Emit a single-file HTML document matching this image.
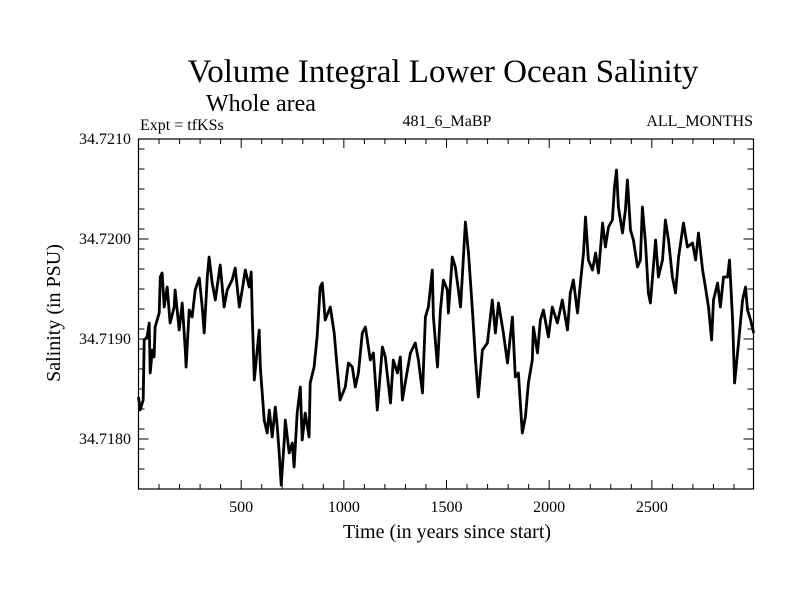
<!DOCTYPE html>
<html><head><meta charset="utf-8"><style>
body{margin:0;background:#fff;}
svg{display:block;font-family:"Liberation Serif",serif;}
</style></head><body>
<svg id="chart" width="800" height="600" viewBox="0 0 800 600">
<rect width="800" height="600" fill="#fff"/>
<text x="443" y="82" font-size="33" text-anchor="middle">Volume Integral Lower Ocean Salinity</text>
<text x="206" y="111" font-size="24">Whole area</text>
<text x="140" y="130" font-size="16">Expt = tfKSs</text>
<text x="447" y="126" font-size="16" text-anchor="middle">481_6_MaBP</text>
<text x="753" y="126" font-size="16" text-anchor="end">ALL_MONTHS</text>
<text x="447" y="538" font-size="20" text-anchor="middle">Time (in years since start)</text>
<text transform="translate(60,313) rotate(-90)" font-size="20" text-anchor="middle">Salinity (in PSU)</text>
<g id="axes"></g>
<path id="series" fill="none" stroke="#000" stroke-width="2.8" stroke-linejoin="round"/>
<rect x="138.5" y="139" width="615" height="350" fill="none" stroke="#000" stroke-width="1.2"/>
</svg>
<script>
const years=[0,8,23,28,42,52,57,67,76,81,101,106,115,125,140,154,174,178,198,213,228,232,247,261,276,296,310,320,335,344,359,374,398,417,432,456,471,491,505,520,539,549,554,564,578,588,593,612,627,637,651,666,676,685,695,710,715,734,749,758,773,788,797,812,831,836,855,870,885,895,909,934,953,967,
982,1007,1022,1041,1056,1071,1090,1105,1129,1144,1163,1188,1202,1227,1241,1261,1275,1285,1299,1324,1348,1363,1383,1397,1412,1431,1436,1456,1470,1485,1504,1509,1528,1543,1558,1568,1577,1592,1607,1626,1641,1655,1675,1699,1723,1738,1753,1777,1797,1821,1835,1850,1869,1884,1899,1918,1923,1943,
1957,1972,1996,2015,2040,2064,2089,2103,2118,2138,2152,2167,2177,2191,2211,2226,2240,2260,2274,2289,2308,2318,2328,2337,2357,2371,2381,2396,2410,2430,2444,2454,2469,2483,2493,2518,2532,2552,2566,2581,2600,2615,2630,2654,2673,2698,2713,2727,2747,2761,2776,2791,2800,2820,2834,2849,2869,2878,2893,2903,2922,2942,2956,2966,2981,2996];
const salinity=[34.71842,34.71829,34.71839,34.71899,34.71902,34.71916,34.71866,34.71889,34.71882,34.71912,34.71926,34.71962,34.71966,34.71932,34.71952,34.71916,34.71932,34.71949,34.71909,34.71936,34.71889,34.71872,34.71929,34.71922,34.71949,34.71961,34.71932,34.71906,34.71962,34.71982,34.71956,34.71939,34.71974,34.71932,34.71949,34.71959,34.71971,34.71932,34.71949,34.71969,34.71952,34.71967,34.71922,34.71859,34.71889,34.71909,34.71872,34.71819,34.71806,34.71829,34.71802,34.71832,34.71812,34.71786,34.71754,34.71799,34.71819,34.71786,34.71796,34.71772,34.71826,34.71852,34.71799,34.71826,34.71802,34.71856,34.71872,34.71902,34.71952,34.71956,34.71919,34.71932,34.71906,34.71872,
34.71839,34.71852,34.71876,34.71872,34.71852,34.71866,34.71906,34.71912,34.71879,34.71886,34.71829,34.71892,34.71882,34.71836,34.71879,34.71866,34.71882,34.71839,34.71856,34.71886,34.71896,34.71879,34.71846,34.71922,34.71932,34.71969,34.71922,34.71872,34.71929,34.71959,34.71949,34.71926,34.71982,34.71972,34.71949,34.71932,34.71962,34.72017,34.71986,34.71929,34.71879,34.71842,34.71889,34.71896,34.71939,34.71906,34.71936,34.71906,34.71876,34.71922,34.71862,34.71866,34.71806,34.71822,34.71856,34.71879,34.71912,34.71886,
34.71919,34.71929,34.71902,34.71932,34.71916,34.71939,34.71909,34.71946,34.71959,34.71926,34.71956,34.71986,34.72022,34.71979,34.71969,34.71986,34.71966,34.72016,34.71992,34.72012,34.72019,34.72052,34.72069,34.72032,34.72006,34.72029,34.72059,34.72009,34.71999,34.71972,34.71979,34.72032,34.71996,34.71946,34.71936,34.71999,34.71962,34.71979,34.72019,34.71999,34.71962,34.71946,34.71982,34.72016,34.71992,34.71996,34.71979,34.72006,34.71969,34.71952,34.71932,34.71899,34.71939,34.71956,34.71932,34.71962,34.71962,34.71979,34.71919,34.71856,34.71896,34.71939,34.71952,34.71929,34.71919,34.71906];
const xTicks=[500,1000,1500,2000,2500];
const yTicks=[34.7180,34.7190,34.7200,34.7210];
const xMin=0,xMax=2995,yMin=34.7175,yMax=34.7210;
const L=138.5,R=753.5,T=139,B=489;
const sx=v=>L+(v-xMin)/(xMax-xMin)*(R-L);
const sy=v=>B-(v-yMin)/(yMax-yMin)*(B-T);
const NS="http://www.w3.org/2000/svg";
const axes=document.getElementById('axes');
function line(x1,y1,x2,y2){const l=document.createElementNS(NS,'line');l.setAttribute('x1',x1);l.setAttribute('y1',y1);l.setAttribute('x2',x2);l.setAttribute('y2',y2);l.setAttribute('stroke','#000');l.setAttribute('stroke-width','1');


axes.appendChild(l);}
for(let v=100;v<xMax;v+=100){const x=sx(v),len=(v%500===0)?9:5;line(x,B,x,B-len);line(x,T,x,T+len);}
for(let k=0;k<=17;k++){const v=yMin+k*0.0002;if(v>yMax+1e-9)break;const y=sy(v);line(L,y,L+6,y);line(R,y,R-6,y);}
yTicks.forEach(v=>{const y=sy(v);line(L,y,L+10,y);line(R,y,R-10,y);
const t=document.createElementNS(NS,'text');t.setAttribute('x',131);t.setAttribute('y',y+5);t.setAttribute('font-size','16');t.setAttribute('text-anchor','end');t.textContent=v.toFixed(4);


axes.appendChild(t);});
xTicks.forEach(v=>{const t=document.createElementNS(NS,'text');t.setAttribute('x',sx(v));t.setAttribute('y',512);t.setAttribute('font-size','16');t.setAttribute('text-anchor','middle');t.textContent=v;


axes.appendChild(t);});
const n=Math.min(years.length,salinity.length);let d='';
for(let i=0;i<n;i++){d+=(i?'L':'M')+sx(years[i]).toFixed(1)+','+sy(salinity[i]).toFixed(1);}
document.getElementById('series').setAttribute('d',d);
</script>
</body></html>
